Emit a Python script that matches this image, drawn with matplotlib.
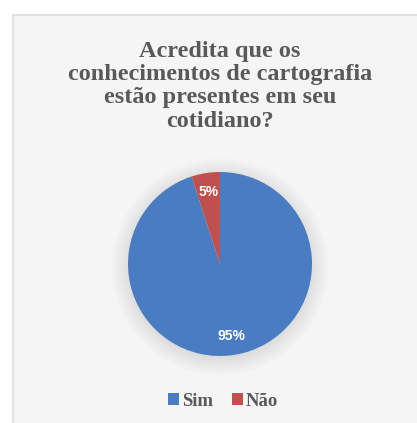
import matplotlib
matplotlib.use("Agg")
import matplotlib.pyplot as plt
from matplotlib.patches import Rectangle, Circle

# respostas
labels = ["Sim", "Não"]
valores = [95, 5]
cores = ["#4a7cc2", "#c0504d"]

titulo = "Acredita que os\nconhecimentos de cartografia\nestão presentes em seu\ncotidiano?"

W, H = 417, 423
fig = plt.figure(figsize=(W / 100, H / 100), dpi=100)
fig.patch.set_facecolor("white")

# fundo cinza claro com borda
fundo = Rectangle((13 / W, -0.05), 1.1, 1 - 15 / H + 0.05,
                  transform=fig.transFigure, facecolor="#f5f5f5",
                  edgecolor="#dcdcdc", linewidth=1.2, zorder=-10)
fig.patches.append(fundo)

fig.text(220 / W, 1 - 41 / H, titulo, ha="center", va="top",
         fontsize=17.5, fontweight="bold", family="Liberation Serif",
         color="#595959", linespacing=1.14)

cx, cy, r = 220, 264, 92
ax = fig.add_axes([(cx - r) / W, (H - cy - r) / H, 2 * r / W, 2 * r / H])

# sombra suave
for k in range(8):
    ax.add_patch(Circle((0, -0.03), 1.0 + 0.025 * k, facecolor="#000000",
                        alpha=0.012, edgecolor="none", zorder=0, clip_on=False))

wedges, texts, autotexts = ax.pie(valores, colors=cores, startangle=90,
                                  counterclock=False, autopct="%d%%",
                                  pctdistance=0.79, radius=1.0,
                                  wedgeprops=dict(linewidth=0),
                                  textprops=dict(color="white", fontweight="bold",
                                                 fontsize=10, family="Liberation Sans"))
for t in texts:
    t.set_visible(False)
ax.set_xlim(-1, 1)
ax.set_ylim(-1, 1)
ax.axis("off")

leg = fig.legend(wedges, labels, loc="center", bbox_to_anchor=(223 / W, 1 - 401 / H),
                 ncol=2, frameon=False, handlelength=0.6, handleheight=0.6,
                 handletextpad=0.15, columnspacing=1.0,
                 prop=dict(family="Liberation Serif", weight="bold", size=13.5))
for t in leg.get_texts():
    t.set_color("#595959")

fig.savefig("out.png", dpi=100, facecolor=fig.get_facecolor())
